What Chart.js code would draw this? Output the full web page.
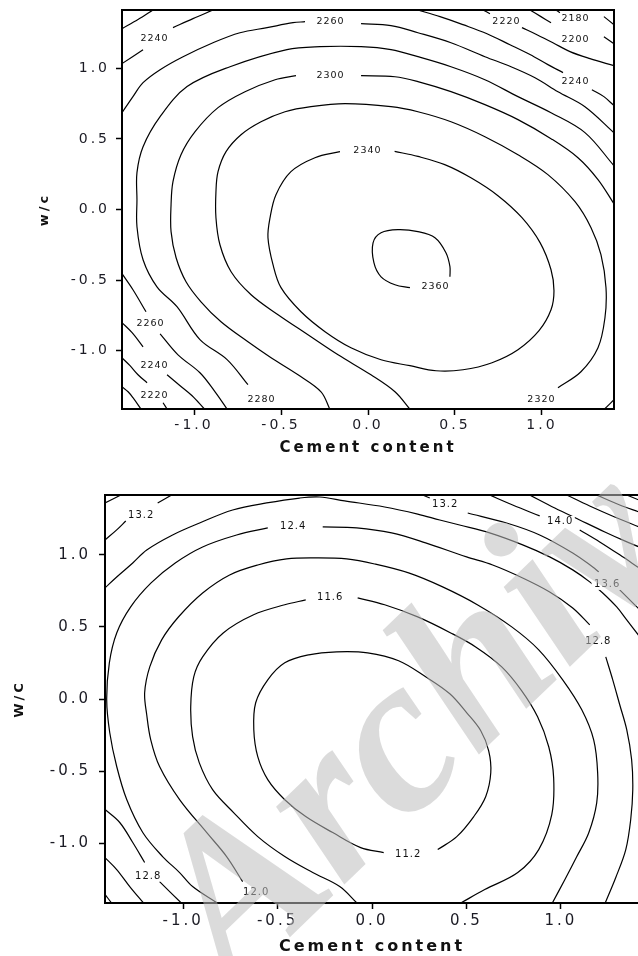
<!DOCTYPE html>
<html>
<head>
<meta charset="utf-8">
<script src="https://cdn.jsdelivr.net/npm/chart.js@4"></script>
<style>
  html, body { margin: 0; padding: 0; background: #fff; overflow: hidden; width: 638px; height: 956px; }
  #topWrap { position: absolute; left: 0; top: 0; }
  #botWrap { position: absolute; left: 0; top: 470px; }
</style>
</head>
<body>
<div id="topWrap"><canvas id="topChart" width="638" height="462"></canvas></div>
<div id="botWrap"><canvas id="botChart" width="660" height="486"></canvas></div>
<script>
// axis ticks (coded factor levels)
const xTicks = [-1.0, -0.5, 0.0, 0.5, 1.0];
const yTicks = [-1.0, -0.5, 0.0, 0.5, 1.0];
const axisMin = -1.414, axisMax = 1.414;

// ---- top panel: density contours, [cement, w/c] points, null = break at a label
const top2360 = [[0.241,-0.554],[0.155,-0.533],[0.075,-0.477],[0.034,-0.377],[0.029,-0.236],[0.075,-0.165],[0.172,-0.143],[0.287,-0.157],[0.385,-0.200],[0.448,-0.306],[0.471,-0.405],[0.471,-0.476]];
const top2340 = [[0.153,0.412],[0.287,0.376],[0.441,0.318],[0.594,0.223],[0.747,0.098],[0.885,-0.058],[0.989,-0.235],[1.052,-0.427],[1.069,-0.576],[1.052,-0.711],[0.983,-0.859],[0.862,-0.994],[0.713,-1.086],[0.546,-1.136],[0.391,-1.143],[0.241,-1.107],[0.075,-1.065],[-0.098,-0.980],[-0.247,-0.866],[-0.385,-0.725],[-0.500,-0.554],[-0.546,-0.391],[-0.575,-0.200],[-0.563,-0.058],[-0.529,0.105],[-0.443,0.268],[-0.305,0.367],[-0.161,0.410]];
const top2320 = [[0.24,-1.414],[0.155,-1.292],[0.017,-1.172],[-0.172,-1.030],[-0.345,-0.888],[-0.517,-0.746],[-0.672,-0.604],[-0.787,-0.441],[-0.851,-0.250],[-0.874,-0.058],[-0.874,0.126],[-0.862,0.268],[-0.816,0.410],[-0.730,0.530],[-0.615,0.622],[-0.477,0.693],[-0.328,0.729],[-0.132,0.750],[0.132,0.729],[0.287,0.693],[0.477,0.622],[0.672,0.516],[0.862,0.388],[1.034,0.247],[1.190,0.055],[1.282,-0.129],[1.339,-0.320],[1.368,-0.554],[1.362,-0.767],[1.322,-0.980],[1.224,-1.150],[1.092,-1.263]];
const top2300 = [[-0.22,-1.414],[-0.270,-1.292],[-0.402,-1.172],[-0.557,-1.051],[-0.690,-0.938],[-0.845,-0.796],[-0.960,-0.654],[-1.046,-0.512],[-1.103,-0.342],[-1.132,-0.157],[-1.132,0.034],[-1.121,0.197],[-1.075,0.388],[-0.994,0.552],[-0.862,0.722],[-0.707,0.835],[-0.534,0.920],[-0.414,0.949],null,[-0.040,0.949],[0.155,0.941],[0.287,0.906],[0.477,0.835],[0.672,0.743],[0.862,0.637],[1.052,0.502],[1.207,0.367],[1.322,0.212],[1.414,0.04],null,[1.36,-1.414],[1.414,-1.348]];
const top2280 = [[-0.690,-1.242],[-0.810,-1.064],[-0.966,-0.922],[-1.098,-0.689],[-1.213,-0.548],[-1.293,-0.356],[-1.328,-0.122],[-1.328,0.069],[-1.328,0.261],[-1.293,0.445],[-1.195,0.658],[-1.040,0.871],[-0.793,1.012],[-0.466,1.133],[-0.276,1.154],[-0.040,1.154],[0.132,1.133],[0.287,1.083],[0.477,1.012],[0.672,0.920],[0.862,0.800],[1.052,0.686],[1.247,0.545],[1.414,0.31]];
const top2260 = [[-1.414,0.686],[-1.351,0.800],[-1.293,0.899],[-1.195,0.991],[-1.063,1.083],[-0.891,1.182],[-0.736,1.253],[-0.580,1.289],[-0.431,1.324],[-0.362,1.331],null,[-0.040,1.317],[0.132,1.303],[0.287,1.253],[0.477,1.182],[0.672,1.083],[0.822,1.012],[0.960,0.934],[1.092,0.835],[1.247,0.729],[1.414,0.544],null,
  [-1.414,-0.455],[-1.351,-0.569],[-1.276,-0.725],null,[-1.195,-0.881],[-1.092,-1.030],[-0.966,-1.157],[-0.879,-1.292],[-0.81,-1.414]];
const top2240 = [[-1.414,1.034],[-1.293,1.133],null,[-1.121,1.289],[-1.006,1.353],[-0.891,1.414],null,
  [0.287,1.414],[0.414,1.367],[0.546,1.310],[0.684,1.246],[0.816,1.168],[0.931,1.098],[1.034,1.027],[1.121,0.970],null,[1.287,0.849],[1.356,0.800],[1.414,0.736],null,
  [-1.414,-0.802],[-1.356,-0.873],[-1.293,-0.973],null,[-1.155,-1.171],[-1.080,-1.249],[-1.011,-1.320],[-0.94,-1.414]];
const top2220 = [[-1.414,1.282],[-1.322,1.346],[-1.236,1.414],null,
  [0.661,1.414],[0.701,1.388],null,[0.885,1.289],[0.971,1.239],[1.063,1.182],[1.161,1.119],[1.276,1.069],[1.414,1.019],null,
  [-1.414,-1.051],[-1.368,-1.107],[-1.322,-1.171],[-1.270,-1.228],null,[-1.178,-1.370],[-1.155,-1.414]];
const top2200 = [[0.931,1.414],[0.994,1.367],[1.052,1.324],null,[1.356,1.225],[1.414,1.175],null,
  [-1.414,-1.256],[-1.379,-1.292],[-1.351,-1.334],[-1.305,-1.414]];
const top2180 = [[1.080,1.414],[1.103,1.395],null,[1.356,1.367],[1.414,1.310]];
const topLabels = [["2240",-1.230,1.211],["2260",-0.218,1.331],["2220",0.793,1.331],["2180",1.190,1.353],["2200",1.190,1.204],["2240",1.190,0.906],["2300",-0.218,0.949],["2340",-0.006,0.417],["2360",0.385,-0.547],["2320",0.994,-1.348],["2260",-1.253,-0.810],["2240",-1.230,-1.107],["2220",-1.230,-1.320],["2280",-0.615,-1.348]];

// ---- bottom panel contours
const bot112 = [[0.062,-1.065],[-0.060,-1.030],[-0.208,-0.926],[-0.351,-0.815],[-0.462,-0.698],[-0.552,-0.559],[-0.605,-0.400],[-0.626,-0.213],[-0.616,-0.026],[-0.552,0.133],[-0.462,0.251],[-0.335,0.306],[-0.187,0.327],[-0.023,0.320],[0.141,0.265],[0.284,0.154],[0.412,0.036],[0.502,-0.096],[0.576,-0.220],[0.618,-0.359],[0.629,-0.511],[0.602,-0.677],[0.539,-0.815],[0.449,-0.954],[0.348,-1.044]];
const bot116 = [[-0.08,-1.414],[-0.171,-1.300],[-0.314,-1.203],[-0.462,-1.092],[-0.605,-0.954],[-0.733,-0.787],[-0.844,-0.628],[-0.915,-0.441],[-0.950,-0.261],[-0.960,-0.053],[-0.944,0.154],[-0.897,0.292],[-0.788,0.458],[-0.627,0.584],[-0.462,0.653],[-0.351,0.687],null,[-0.076,0.701],[0.067,0.653],[0.242,0.569],[0.417,0.458],[0.549,0.361],[0.687,0.223],[0.793,0.057],[0.877,-0.123],[0.936,-0.331],[0.962,-0.546],[0.952,-0.802],[0.883,-1.044],[0.772,-1.203],[0.597,-1.321],[0.47,-1.414]];
const bot120 = [[-0.685,-1.266],[-0.770,-1.092],[-0.876,-0.925],[-1.019,-0.697],[-1.125,-0.468],[-1.172,-0.281],[-1.193,-0.109],[-1.204,0.043],[-1.177,0.223],[-1.114,0.410],[-1.024,0.570],[-0.897,0.735],[-0.754,0.860],[-0.605,0.929],[-0.452,0.971],[-0.298,0.978],[-0.134,0.971],[0.014,0.936],[0.194,0.874],[0.374,0.777],[0.560,0.652],[0.740,0.500],[0.883,0.341],[1.010,0.133],[1.111,-0.075],[1.174,-0.283],[1.195,-0.511],[1.190,-0.720],[1.148,-0.927],[1.084,-1.094],[1.021,-1.253],[0.955,-1.414]];
const bot124 = [[-0.82,-1.414],[-0.950,-1.300],[-1.019,-1.203],[-1.109,-1.092],[-1.214,-0.925],[-1.299,-0.697],[-1.352,-0.468],[-1.389,-0.232],[-1.405,-0.006],[-1.391,0.251],[-1.352,0.458],[-1.278,0.639],[-1.170,0.805],[-1.042,0.943],[-0.897,1.054],[-0.717,1.137],[-0.552,1.186],null,[-0.261,1.193],[-0.081,1.186],[0.104,1.151],[0.284,1.082],[0.501,0.985],[0.639,0.929],[0.798,0.839],[0.941,0.742],[1.063,0.631],[1.153,0.514],null,[1.238,0.292],[1.275,0.133],[1.312,-0.040],[1.349,-0.213],[1.375,-0.421],[1.381,-0.629],[1.370,-0.837],[1.344,-1.044],[1.291,-1.237],[1.235,-1.414]];
const bot128 = [[-1.414,0.770],[-1.352,0.846],[-1.267,0.943],[-1.193,1.033],[-1.056,1.137],[-0.913,1.220],[-0.738,1.310],[-0.558,1.359],[-0.383,1.393],[-0.277,1.400],[-0.145,1.373],[0.067,1.331],[0.242,1.282],[0.359,1.241],[0.464,1.206],[0.623,1.151],[0.798,1.068],[0.941,0.985],[1.063,0.895],[1.153,0.812],[1.222,0.735],[1.296,0.638],[1.349,0.548],[1.414,0.438],null,
  [-1.414,-0.766],[-1.336,-0.856],[-1.267,-0.995],[-1.204,-1.133],null,[-1.125,-1.266],[-1.01,-1.414]];
const bot132 = [[-1.414,1.102],[-1.352,1.172],[-1.304,1.234],null,[-1.135,1.359],[-1.061,1.414],null,
  [-1.414,-1.099],[-1.352,-1.182],[-1.283,-1.300],[-1.21,-1.414],null,
  [0.268,1.414],[0.306,1.393],null,[0.507,1.289],[0.713,1.220],[0.888,1.137],[1.063,1.012],[1.169,0.915],[1.201,0.881],null,[1.312,0.756],[1.381,0.666],[1.414,0.624]];
const bot136 = [[-1.414,1.359],[-1.33,1.414],null,[-1.414,-1.355],[-1.379,-1.414],null,
  [0.623,1.414],[0.745,1.345],[0.888,1.269],null,[1.100,1.172],[1.206,1.089],[1.312,0.999],[1.414,0.909]];
const bot140 = [[0.835,1.414],[0.968,1.324],[1.100,1.241],[1.233,1.158],[1.338,1.096],[1.414,1.054]];
const bot144 = [[1.031,1.414],[1.153,1.338],[1.285,1.262],[1.414,1.193]];
const bot148 = [[1.190,1.414],[1.312,1.345],[1.414,1.296]];
const bot152 = [[1.349,1.414],[1.414,1.379]];
const botLabels = [["13.2",-1.225,1.276],["12.4",-0.420,1.193],["13.2",0.385,1.352],["14.0",0.994,1.234],["13.6",1.243,0.791],["12.8",1.196,0.396],["11.6",-0.224,0.701],["11.2",0.189,-1.079],["12.0",-0.616,-1.342],["12.8",-1.188,-1.230]];

function toSegments(points) {
  const segs = [[]];
  points.forEach(p => {
    if (p === null) segs.push([]);
    else segs[segs.length - 1].push({ x: p[0], y: p[1] });
  });
  return segs.filter(s => s.length > 1);
}

function contourDatasets(lines) {
  return lines.flatMap(line => toSegments(line).map(seg => ({
    data: seg,
    showLine: true,
    pointRadius: 0,
    borderColor: '#000',
    borderWidth: 1.2,
    tension: 0.35,
    fill: false
  })));
}

const spacingPlugin = {
  id: 'spacing',
  beforeDraw(chart) { chart.ctx.letterSpacing = '3px'; }
};

const labelPlugin = {
  id: 'contourLabels',
  afterDatasetsDraw(chart, args, opts) {
    const { ctx, scales: { x, y } } = chart;
    ctx.save();
    ctx.font = opts.font;
    ctx.letterSpacing = '1px';
    ctx.textAlign = 'center';
    ctx.textBaseline = 'middle';
    opts.items.forEach(([text, vx, vy]) => {
      const px = x.getPixelForValue(vx), py = y.getPixelForValue(vy);
      const w = ctx.measureText(text).width;
      ctx.fillStyle = '#fff';
      ctx.fillRect(px - w / 2 - 2, py - 5, w + 4, 10);
      ctx.fillStyle = '#111';
      ctx.fillText(text, px + 0.5, py);
    });
    ctx.restore();
  }
};

const framePlugin = {
  id: 'frame',
  afterDraw(chart) {
    const { ctx, chartArea: a } = chart;
    ctx.save();
    ctx.strokeStyle = '#000';
    ctx.lineWidth = 2;
    ctx.strokeRect(a.left, a.top, a.right - a.left, a.bottom - a.top);
    ctx.restore();
  }
};

const watermarkPlugin = {
  id: 'watermark',
  afterDraw(chart, args, opts) {
    if (!opts.text) return;
    const { ctx } = chart;
    ctx.save();
    ctx.letterSpacing = '0px';
    ctx.translate(opts.x, opts.y);
    ctx.rotate(opts.angle * Math.PI / 180);
    ctx.font = 'italic bold 225px "Liberation Serif"';
    ctx.fillStyle = 'rgba(190,190,190,0.55)';
    ctx.fillText(opts.text, 0, 0);
    ctx.restore();
  }
};

function makeChart(id, lines, labels, cfg) {
  const tickColor = '#1b1b24';
  return new Chart(document.getElementById(id), {
    type: 'scatter',
    data: { datasets: contourDatasets(lines) },
    options: {
      responsive: false,
      animation: false,
      events: [],
      layout: { padding: cfg.padding },
      plugins: {
        legend: { display: false },
        tooltip: { enabled: false },
        contourLabels: { items: labels, font: cfg.labelFont },
        watermark: cfg.watermark || {}
      },
      scales: {
        x: {
          type: 'linear', min: axisMin, max: axisMax,
          afterBuildTicks: s => { s.ticks = xTicks.map(v => ({ value: v })); },
          afterFit: s => { s.height = cfg.xHeight; s.paddingLeft = 0; s.paddingRight = 0; },
          ticks: { callback: v => v.toFixed(1), autoSkip: false, maxRotation: 0, padding: cfg.xPad, color: tickColor, font: { family: 'DejaVu Sans', size: cfg.tickSize } },
          grid: { drawOnChartArea: false, drawTicks: true, tickLength: 6, tickWidth: 1.5, tickColor: '#000' },
          border: { display: false },
          title: { display: true, text: 'Cement content', color: '#111', padding: { top: 0, bottom: cfg.xTitlePad }, font: { family: 'DejaVu Sans', size: cfg.titleSize, weight: 'bold' } }
        },
        y: {
          type: 'linear', min: axisMin, max: axisMax,
          afterBuildTicks: s => { s.ticks = yTicks.map(v => ({ value: v })); },
          afterFit: s => { s.width = cfg.yWidth; s.paddingTop = 0; s.paddingBottom = 0; },
          ticks: { callback: v => v.toFixed(1), autoSkip: false, padding: cfg.yPad, color: tickColor, font: { family: 'DejaVu Sans', size: cfg.tickSize } },
          grid: { drawOnChartArea: false, drawTicks: true, tickLength: 6, tickWidth: 1.5, tickColor: '#000' },
          border: { display: false },
          title: { display: true, text: cfg.yTitle, color: '#111', padding: { top: cfg.yTitlePad, bottom: 0 }, font: { family: 'DejaVu Sans', size: 13, weight: 'bold' } }
        }
      }
    },
    plugins: [spacingPlugin, labelPlugin, framePlugin, watermarkPlugin]
  });
}

makeChart('topChart',
  [top2360, top2340, top2320, top2300, top2280, top2260, top2240, top2220, top2200, top2180],
  topLabels,
  { padding: { left: 0, top: 10, right: 24, bottom: 0 }, xHeight: 53, yWidth: 122,
    xPad: 2, yPad: 6, tickSize: 14, titleSize: 15, xTitlePad: 5, yTitle: 'w/c', yTitlePad: 37,
    labelFont: '9.5px "DejaVu Sans"' });

makeChart('botChart',
  [bot112, bot116, bot120, bot124, bot128, bot132, bot136, bot140, bot144, bot148, bot152],
  botLabels,
  { padding: { left: 0, top: 25, right: 21, bottom: 0 }, xHeight: 53, yWidth: 105,
    xPad: 3, yPad: 8, tickSize: 15, titleSize: 16, xTitlePad: 0, yTitle: 'W/C', yTitlePad: 12,
    labelFont: '10px "DejaVu Sans"',
    watermark: { text: 'Archive of SID', x: 233, y: 522, angle: -44 } });
</script>
</body>
</html>
